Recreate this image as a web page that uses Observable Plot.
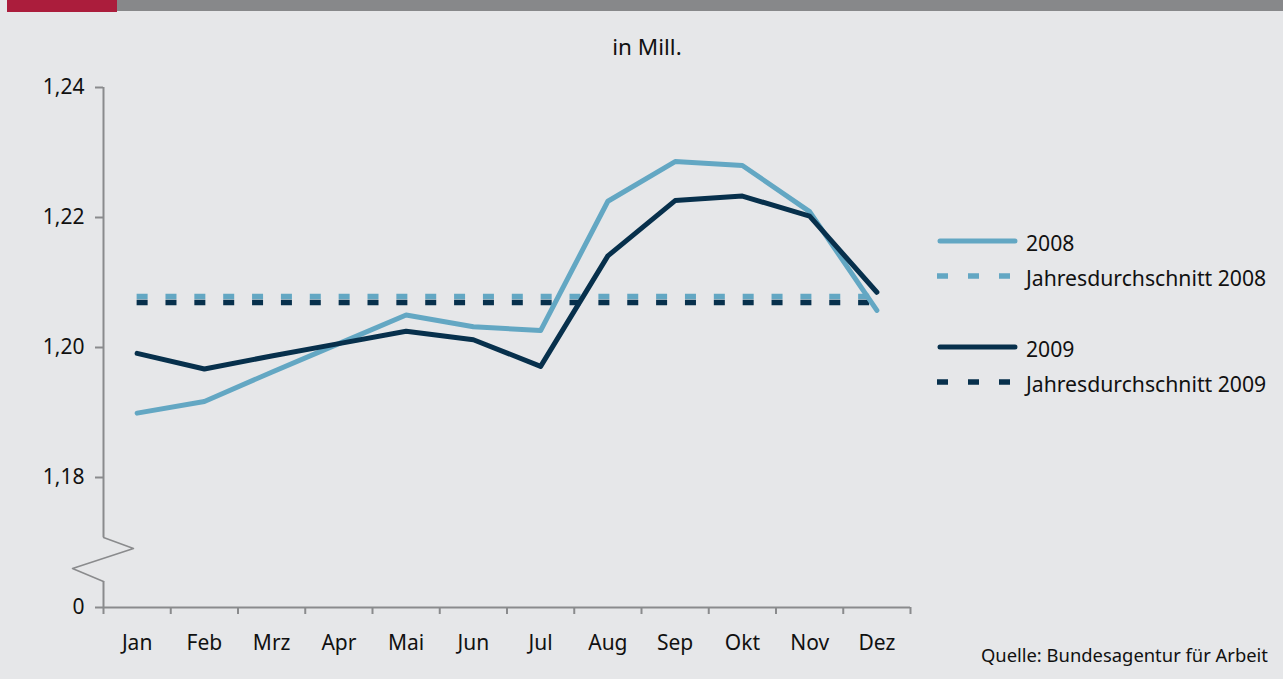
<!DOCTYPE html>
<html>
<head>
<meta charset="utf-8">
<script src="https://cdn.jsdelivr.net/npm/d3@7"></script>
<script src="https://cdn.jsdelivr.net/npm/@observablehq/plot@0.6"></script>
<style>
  html, body { margin: 0; padding: 0; background: #e6e7e9; }
  #wrap { position: relative; width: 1283px; height: 679px; background: #e6e7e9; overflow: hidden;
          font-family: "Noto Sans", "Open Sans", sans-serif; color: #111; }
  #wrap svg.plot { position: absolute; left: 0; top: 0; }
  .bar { position: absolute; top: 0; }
  #overlay { position: absolute; left: 0; top: 0; pointer-events: none; }
</style>
</head>
<body>
<div id="wrap">
  <div class="bar" style="left:7px;width:110px;height:12px;background:#ab1d3c;"></div>
  <div class="bar" style="left:117px;width:1166px;height:11px;background:#87888a;"></div>
</div>
<script>
// ---- data ----
const months = ["Jan","Feb","Mrz","Apr","Mai","Jun","Jul","Aug","Sep","Okt","Nov","Dez"];
const values2008 = [1.1899, 1.1917, 1.1962, 1.2006, 1.2050, 1.2032, 1.2026, 1.2225, 1.2286, 1.2280, 1.2209, 1.2057];
const values2009 = [1.1991, 1.1967, 1.1987, 1.2006, 1.2025, 1.2012, 1.1971, 1.2141, 1.2226, 1.2233, 1.2202, 1.2085];
const avg2008 = 1.20785;
const avg2009 = 1.20692;
const yTicks = [1.16, 1.18, 1.20, 1.22, 1.24];
const yTickLabels = ["0", "1,18", "1,20", "1,22", "1,24"];
const seriesNames = ["2008", "Jahresdurchschnitt 2008", "2009", "Jahresdurchschnitt 2009"];
const titleText = "in Mill.";
const sourceText = "Quelle: Bundesagentur für Arbeit";
// axis break (zigzag) in data units: the lower axis segment stands for 0
const breakTop = 1.17077, breakBottom = 1.16400;
const breakShape = [
  {x: -0.5, y: 1.17077}, {x: -0.054, y: 1.16908}, {x: -0.961, y: 1.16600}, {x: -0.5, y: 1.16400}
];

const light = "#63a7c3";
const dark = "#07304c";
const axisGray = "#8a8b8d";
const font = '"Noto Sans", "Open Sans", sans-serif';

const monthIdx = months.map((m, i) => i);
const edges = d3.range(13).map(i => i - 0.5);
const d2008 = months.map((m, i) => ({i, v: values2008[i]}));
const d2009 = months.map((m, i) => ({i, v: values2009[i]}));

const chart = Plot.plot({
  width: 1283,
  height: 679,
  marginLeft: 103,
  marginRight: 373,
  marginTop: 87,
  marginBottom: 72,
  style: {background: "transparent", fontFamily: font, fontSize: "21px", color: "#111", overflow: "visible"},
  x: {type: "linear", domain: [-0.5, 11.5], axis: null},
  y: {type: "linear", domain: [1.16, 1.24], axis: null},
  marks: [
    // y axis line (two segments around the break)
    Plot.ruleX([-0.5], {y1: breakTop, y2: 1.24, stroke: axisGray, strokeWidth: 2}),
    Plot.ruleX([-0.5], {y1: 1.16, y2: breakBottom, stroke: axisGray, strokeWidth: 2}),
    Plot.line(breakShape, {x: "x", y: "y", stroke: axisGray, strokeWidth: 1.5}),
    // x axis line
    Plot.ruleY([1.16], {x1: -0.5, x2: 11.5, stroke: axisGray, strokeWidth: 2}),
    Plot.axisX(edges, {anchor: "bottom", tickSize: 7, tickFormat: () => "", stroke: axisGray, strokeWidth: 2}),
    Plot.axisX(monthIdx, {anchor: "bottom", tickSize: 0, tickPadding: 28, tickFormat: i => months[i], fontSize: 21, fill: "#111"}),
    Plot.axisY(yTicks, {anchor: "left", tickSize: 8, tickPadding: 11, tickFormat: (d, i) => yTickLabels[i], stroke: axisGray, strokeWidth: 2, fontSize: 21, fill: "#111"}),
    // averages
    Plot.ruleY([avg2008], {x1: 0, x2: 11, stroke: light, strokeWidth: 5.7, strokeDasharray: "11,17.86"}),
    Plot.ruleY([avg2009], {x1: 0, x2: 11, stroke: dark, strokeWidth: 5.7, strokeDasharray: "11,17.86"}),
    // series
    Plot.line(d2008, {x: "i", y: "v", stroke: light, strokeWidth: 5, strokeLinejoin: "round", strokeLinecap: "round"}),
    Plot.line(d2009, {x: "i", y: "v", stroke: dark, strokeWidth: 5, strokeLinejoin: "round", strokeLinecap: "round"})
  ]
});
chart.classList.add("plot");
const wrap = document.getElementById("wrap");
wrap.appendChild(chart);

// overlay: title, legend, source
const ov = d3.select(wrap).append("svg").attr("id", "overlay").attr("width", 1283).attr("height", 679)
  .style("font-family", font).style("fill", "#111");
ov.append("text").attr("x", 647).attr("y", 55).attr("text-anchor", "middle").attr("font-size", 22.5).text(titleText);
ov.append("text").attr("x", 1268).attr("y", 662).attr("text-anchor", "end").attr("font-size", 18.4).text(sourceText);
const legendItems = [
  {name: seriesNames[0], color: light, dash: null, y: 241},
  {name: seriesNames[1], color: light, dash: "11,20", y: 276},
  {name: seriesNames[2], color: dark, dash: null, y: 347},
  {name: seriesNames[3], color: dark, dash: "11,20", y: 382}
];
for (const it of legendItems) {
  const ln = ov.append("line").attr("x1", it.dash ? 937 : 940).attr("x2", it.dash ? 1011 : 1015)
    .attr("y1", it.y).attr("y2", it.y).attr("stroke", it.color)
    .attr("stroke-width", it.dash ? 5.7 : 5);
  if (it.dash) ln.attr("stroke-dasharray", it.dash); else ln.attr("stroke-linecap", "round");
  ov.append("text").attr("x", 1026).attr("y", it.y + 10).attr("font-size", 21.2).text(it.name);
}
</script>
</body>
</html>
